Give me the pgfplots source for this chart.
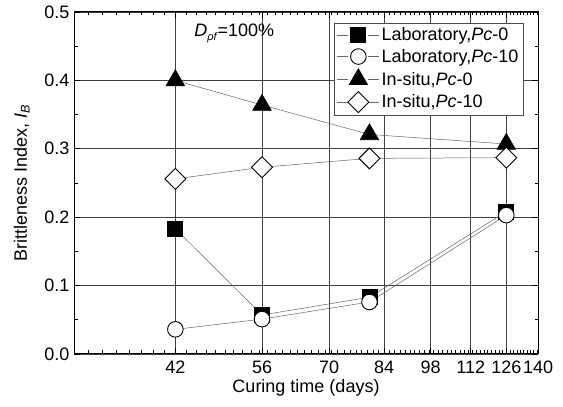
\documentclass[border=0pt]{standalone}
\usepackage{fontspec}
\setmainfont{Liberation Sans}
\usepackage{pgfplots}
\pgfplotsset{compat=1.18}
\begin{document}
\begin{tikzpicture}
\newcommand{\fs}{\fontsize{18}{21}\selectfont}
\begin{axis}[
  name=ax,
  scale only axis,
  width=464pt, height=342pt,
  xmode=log,
  xmin=30, xmax=140,
  ymin=0, ymax=0.5,
  xtick={42,56,70,84,98,112,126,140},
  xticklabels={42,56,70,84,98,112,126,140},
  minor xtick={31.5,33,...,139.5},
  ytick={0,0.1,0.2,0.3,0.4,0.5},
  minor ytick={0.05,0.15,0.25,0.35,0.45},
  yticklabel style={xshift=-1pt,/pgf/number format/.cd,fixed,fixed zerofill,precision=1},
  /pgf/number format/assume math mode=true,
  tick label style={font=\fs},
  xticklabel style={yshift=-3pt},
  label style={font=\fs},
  tick align=inside,
  major tick length=6pt,
  minor tick length=3.5pt,
  xtick pos=both, ytick pos=both,
  xticklabel pos=lower, yticklabel pos=left,
  grid=major,
  major grid style={black!75, line width=0.7pt},
  axis line style={line width=1pt},
  every tick/.style={black, line width=0.7pt},
  xlabel={Curing time (days)},
  ylabel={Brittleness Index, \textit{I}\textsubscript{\textit{B}}},
  xlabel style={yshift=1pt},
  ylabel style={yshift=8pt},
  legend style={at={(0.968,0.968)}, anchor=north east, font=\fs,
    draw=black!70, line width=0.6pt, inner sep=2.5pt, row sep=3pt,
    cells={anchor=west}},
  legend image code/.code={
    \draw[mark=none] (0pt,0pt) -- (11pt,0pt);
    \draw[mark=none] (31pt,0pt) -- (42pt,0pt);
    \draw plot coordinates {(21pt,0pt)};
  },
  every axis plot/.append style={black!60, line width=0.5pt},
]
\addplot[mark=square*, mark size=7.5pt, mark options={draw=black, fill=black, line width=0.8pt}]
  coordinates {(42,0.183) (56,0.057) (80,0.083) (126,0.208)};
\addlegendentry{Laboratory,\textit{Pc}-0}
\addplot[mark=*, mark size=7.8pt, mark options={draw=black, fill=white, line width=0.9pt}]
  coordinates {(42,0.036) (56,0.051) (80,0.076) (126,0.203)};
\addlegendentry{Laboratory,\textit{Pc}-10}
\addplot[mark=triangle*, mark size=10.5pt, mark options={draw=black, fill=black, line width=0.8pt}]
  coordinates {(42,0.400) (56,0.364) (80,0.321) (126,0.307)};
\addlegendentry{In-situ,\textit{Pc}-0}
\addplot[mark=square*, mark size=7.4pt, mark options={draw=black, fill=white, line width=0.9pt, rotate=45}]
  coordinates {(42,0.256) (56,0.273) (80,0.286) (126,0.287)};
\addlegendentry{In-situ,\textit{Pc}-10}
\node[anchor=west, font=\fs, inner sep=0pt] at (axis cs:44.7,0.469) {\textit{D}\raisebox{-4pt}{\fontsize{11}{12}\selectfont\textit{ρf}}=100\%};
\end{axis}
\path ([shift={(-74pt,-53pt)}]ax.south west) rectangle ([shift={(25pt,12pt)}]ax.north east);
\end{tikzpicture}
\end{document}
